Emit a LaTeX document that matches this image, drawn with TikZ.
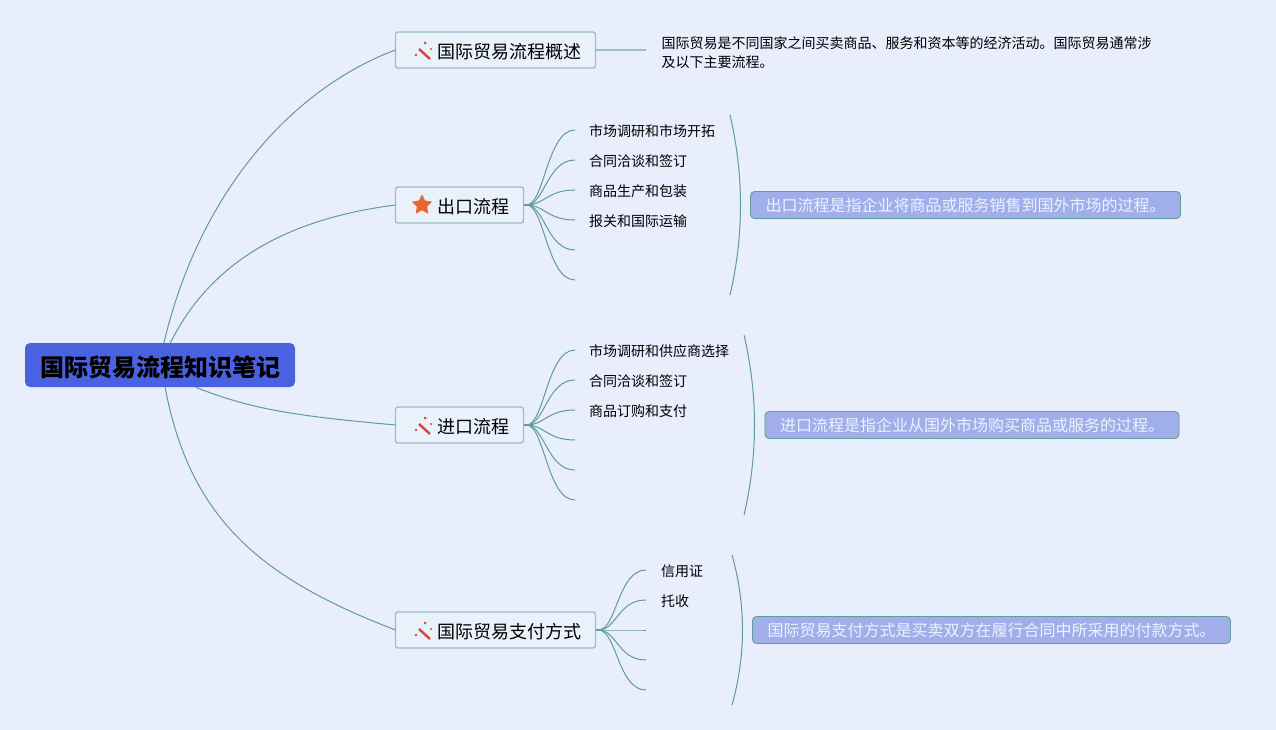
\documentclass[tikz,border=0pt]{standalone}
\usepackage{fontspec}
\setmainfont{Noto Sans CJK SC}
\usetikzlibrary{positioning, shapes.geometric}

\definecolor{pagebg}{HTML}{E8EEFC}
\definecolor{rootblue}{HTML}{4A62E0}
\definecolor{topicfill}{HTML}{E9F1FB}
\definecolor{topicline}{HTML}{9ABFC6}
\definecolor{branchline}{HTML}{5F9C9A}
\definecolor{notefill}{HTML}{A0AFE9}
\definecolor{notetext}{HTML}{EDF2FF}
\definecolor{wandred}{HTML}{D8453C}
\definecolor{starred}{HTML}{E8662F}

\newcommand{\wandicon}{\tikz[baseline=-8.1pt, x=1pt, y=-1pt]{
    \useasboundingbox (-13,-10) rectangle (14,10);
    \draw[wandred, line width=2.4pt] (-4,-1) -- (7,9);
    \fill[wandred] (2,-7) circle (1.5) (8,-1) circle (1.2) (-7,5) circle (1.4);
}}
\newcommand{\staricon}{\tikz[baseline=-8.1pt, x=1pt, y=-1pt]{
    \useasboundingbox (-13,-10) rectangle (14,10);
    \node[star, star points=5, star point ratio=2.1, fill=starred, anchor=center, inner sep=0pt, minimum size=22pt, rounded corners=1pt] (starmark) at (-1,0) {};
}}

\begin{document}
\begin{tikzpicture}[
    x=1pt, y=-1pt,
    node distance=0pt,
    root/.style={rectangle, fill=rootblue, rounded corners=5pt, minimum width=270pt, minimum height=44pt, text height=23pt, text depth=0.8pt, font=\fontsize{24}{28}\selectfont\bfseries},
    topic/.style={rectangle, draw=topicline, line width=1.4pt, fill=topicfill, rounded corners=2.5pt, minimum height=36pt, inner xsep=14.5pt, inner ysep=0pt, outer sep=0pt, text height=16.6pt, text depth=0.4pt, font=\fontsize{18}{22}\selectfont},
    leaf/.style={rectangle, text width=158pt, minimum height=30pt, inner xsep=14pt, inner ysep=0pt, outer sep=0pt, align=left, text height=13.4pt, text depth=0.8pt, font=\fontsize{14}{18}\selectfont},
    shortleaf/.style={leaf, text width=70pt, inner xsep=15pt},
    summary/.style={rectangle, draw=branchline, line width=0.8pt, fill=notefill, text=notetext, rounded corners=4pt, minimum height=27pt, inner xsep=15pt, inner ysep=0pt, outer sep=0pt, text height=13pt, text depth=0.8pt, font=\fontsize{16}{20}\selectfont},
    describe/.style={rectangle, align=left, inner sep=0pt, font=\fontsize{14}{19}\selectfont},
    branch/.style={draw=branchline, line width=1pt},
    stub/.style={draw=branchline, line width=1.8pt},
    plainstub/.style={draw=topicline, line width=1.3pt}
]
\fill[pagebg] (0,0) rectangle (1276,730);
\useasboundingbox (0,0) rectangle (1276,730);

% Root and main topics
\node[root] (root) at (160,365) {国际贸易流程知识笔记};
\node[topic, anchor=west] (overview) at (395.5,50) {\wandicon 国际贸易流程概述};
\node[topic, anchor=west] (export) at (395.5,205) {\staricon 出口流程};
\node[topic, anchor=west] (import) at (395.5,425) {\wandicon 进口流程};
\node[topic, anchor=west] (payment) at (395.5,630) {\wandicon 国际贸易支付方式};

% Overview text
\coordinate[right=50pt of overview] (overviewEnd);
\node[describe, right=16pt of overviewEnd, yshift=-2.5pt] (overviewText) {国际贸易是不同国家之间买卖商品、服务和资本等的经济活动。国际贸易通常涉\\及以下主要流程。};

% Export branch
\coordinate[right=3pt of export] (exportHub);
\node[leaf, anchor=west] (export1) at (575,130) {市场调研和市场开拓};
\node[leaf, below=of export1] (export2) {合同洽谈和签订};
\node[leaf, below=of export2] (export3) {商品生产和包装};
\node[leaf, below=of export3] (export4) {报关和国际运输};
\node[leaf, below=of export4] (export5) {};
\node[leaf, below=of export5] (export6) {};
\node[summary, right=227pt of export] (exportNote) {出口流程是指企业将商品或服务销售到国外市场的过程。};

% Import branch
\coordinate[right=3pt of import] (importHub);
\node[leaf, anchor=west] (import1) at (575,350) {市场调研和供应商选择};
\node[leaf, below=of import1] (import2) {合同洽谈和签订};
\node[leaf, below=of import2] (import3) {商品订购和支付};
\node[leaf, below=of import3] (import4) {};
\node[leaf, below=of import4] (import5) {};
\node[leaf, below=of import5] (import6) {};
\node[summary, right=241.5pt of import] (importNote) {进口流程是指企业从国外市场购买商品或服务的过程。};

% Payment branch
\coordinate[right=3pt of payment] (paymentHub);
\node[shortleaf, anchor=west] (payment1) at (646,570) {信用证};
\node[shortleaf, below=of payment1] (payment2) {托收};
\node[shortleaf, below=of payment2] (payment3) {};
\node[shortleaf, below=of payment3] (payment4) {};
\node[shortleaf, below=of payment4] (payment5) {};
\node[summary, right=157pt of payment] (paymentNote) {国际贸易支付方式是买卖双方在履行合同中所采用的付款方式。};

% Bracket ends
\coordinate (exportTop) at (730,115);
\coordinate (exportEnd) at (730,295);
\coordinate (importTop) at (744,335);
\coordinate (importEnd) at (744,515);
\coordinate (paymentTop) at (732,555);
\coordinate (paymentEnd) at (732,705);

% Main edges
\draw[branch] (root.80) .. controls +(38,-160) and +(-95,35) .. (overview.west);
\draw[branch] (root.65) .. controls +(40,-80) and +(-110,14) .. (export.west);
\draw[branch] (root.-32) .. controls +(55,22) and +(-100,-9) .. (import.west);
\draw[branch] (root.-77) .. controls +(25,135) and +(-130,-50) .. (payment.west);
\draw[plainstub] (overview.east) -- (overviewEnd);

% Fans
\draw[stub] (export.east) -- (exportHub);
\draw[stub] (import.east) -- (importHub);
\draw[stub] (payment.east) -- (paymentHub);
\foreach \i in {1,...,6} {
    \draw[branch] (exportHub) .. controls +(18,0) and +(-28,0) .. (export\i.west);
    \draw[branch] (importHub) .. controls +(18,0) and +(-28,0) .. (import\i.west);
}
\foreach \i in {1,...,5} {
    \draw[branch] (paymentHub) .. controls +(18,0) and +(-28,0) .. (payment\i.west);
}

% Brackets
\draw[branch] (exportTop) .. controls +(14,60) and +(14,-60) .. (exportEnd);
\draw[branch] (importTop) .. controls +(14,60) and +(14,-60) .. (importEnd);
\draw[branch] (paymentTop) .. controls +(14,50) and +(14,-50) .. (paymentEnd);

\end{tikzpicture}
\end{document}
